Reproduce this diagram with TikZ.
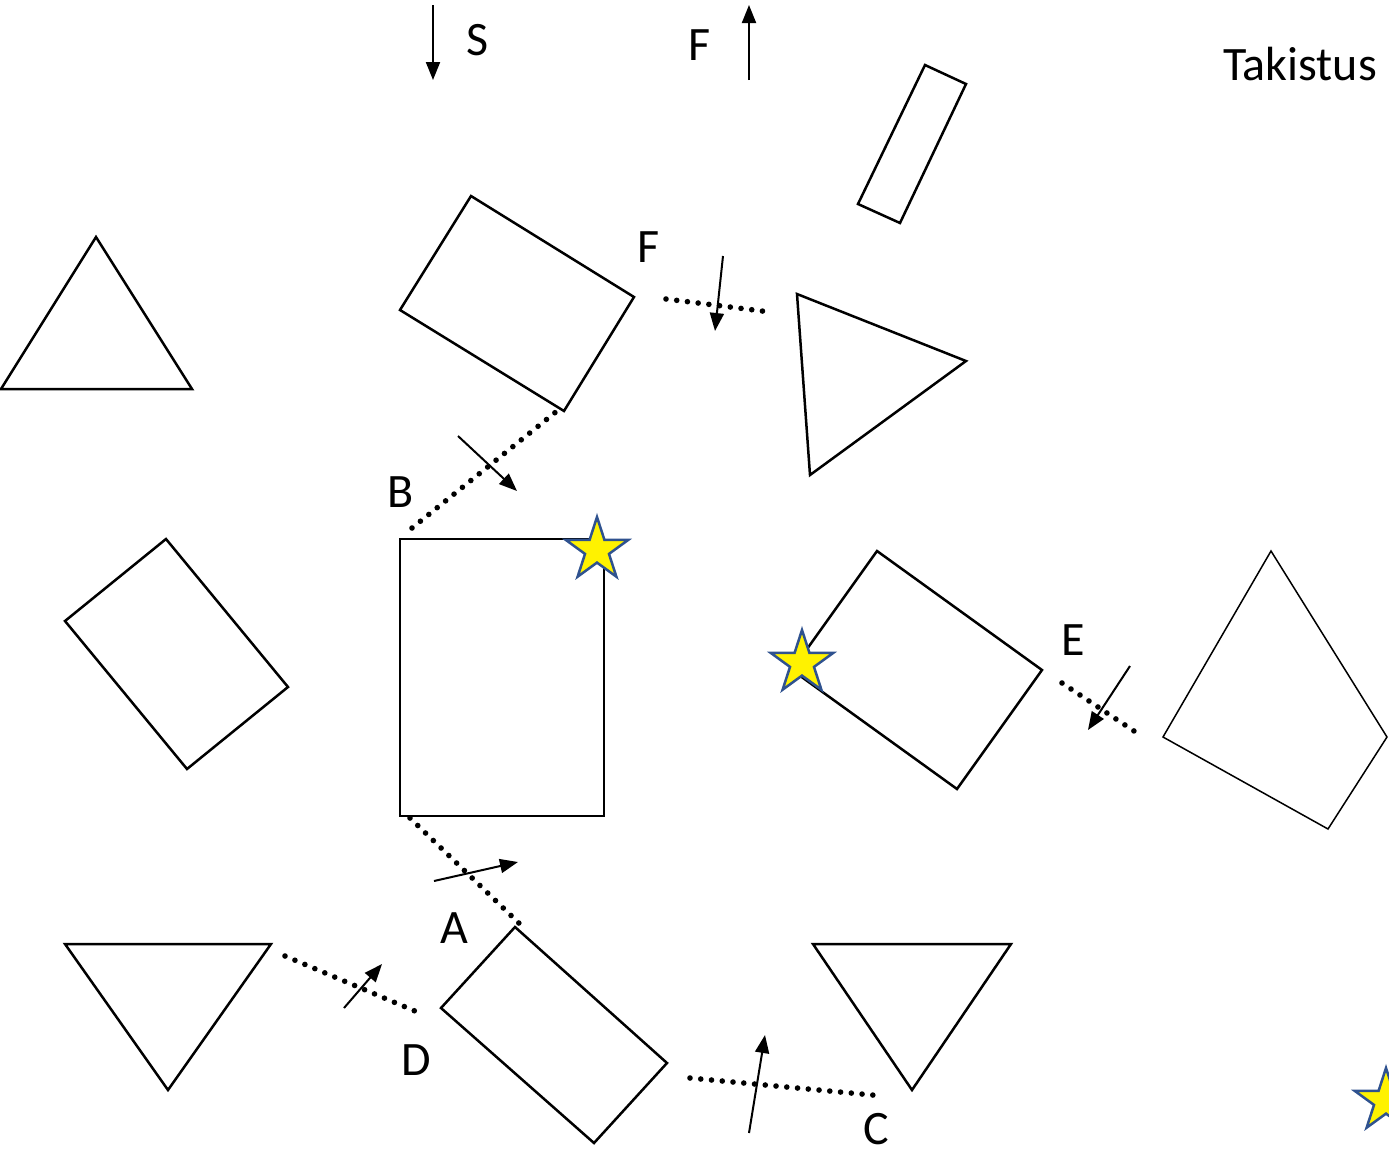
\documentclass[tikz,border=0pt]{standalone}
\usepackage{fontspec}
\setmainfont{Carlito}
\usetikzlibrary{arrows.meta,shapes.geometric}
\definecolor{starblue}{RGB}{47,82,143}

\begin{document}
\begin{tikzpicture}[
    x=0.5pt, y=-0.5pt,
    outline/.style={draw=black, line width=1.25pt, line join=miter},
    thin outline/.style={draw=black, line width=0.75pt},
    dotline/.style={line width=2.8pt, line cap=round, dash pattern=on 0pt off 5.4pt},
    force/.style={-{Triangle[length=9pt, width=7pt]}, line width=1pt},
    lbl/.style={font=\fontsize{24}{28}\selectfont, inner sep=0pt},
    ystar/.style={star, star points=5, star point ratio=2.62, minimum size=33pt,
        inner sep=0pt, fill=yellow, draw=starblue, line width=1.25pt}
]
    \useasboundingbox (0,0) rectangle (1389,1153);

    % ylarivi: suunnat ja otsikko
    \draw[force] (433,5) -- (433,80);
    \node[lbl] (s) at (478,40) {S};
    \draw[force] (749,80) -- (749,5);
    \node[lbl] (f1) at (700,45) {F};
    \node[lbl] (tak) at (1300,64) {Takistus};

    % kappaleet
    \draw[outline] (96,237) -- (192,389) -- (1,389) -- cycle;
    \draw[outline] (471,196) -- (634,297) -- (564,411) -- (400,310) -- cycle;
    \draw[outline] (925,65) -- (966,84) -- (900,223) -- (858,204) -- cycle;
    \draw[outline] (797,294) -- (966,361) -- (810,475) -- cycle;
    \draw[outline] (166,539) -- (288,687) -- (187,769) -- (65,621) -- cycle;
    \draw[outline] (400,539) rectangle (604,816);
    \draw[outline] (877,551) -- (1042,670) -- (957,789) -- (792,670) -- cycle;
    \draw[thin outline] (1271,551) -- (1387,737) -- (1328,829) -- (1163,737) -- cycle;
    \draw[outline] (65,944) -- (271,944) -- (168,1090) -- cycle;
    \draw[outline] (515,927) -- (667,1063) -- (594,1143) -- (441,1008) -- cycle;
    \draw[outline] (813,944) -- (1011,944) -- (912,1090) -- cycle;

    % tahdet
    \node[ystar] (st1) at (597,550) {};
    \node[ystar] (st2) at (802,663) {};
    \node[ystar] (st3) at (1386,1101) {};

    % F
    \draw[dotline] (666,299) -- (770,312);
    \draw[force] (723,256) -- (715,331);
    \node[lbl] (f2) at (649,247) {F};

    % B
    \draw[dotline] (412,528) -- (557,411);
    \draw[force] (458,436) -- (517,491);
    \node[lbl] (b) at (401,492) {B};

    % A
    \draw[dotline] (410,818) -- (524,928);
    \draw[force] (434,881) -- (518,862);
    \node[lbl] (a) at (454,928) {A};

    % E
    \draw[dotline] (1062,683) -- (1140,735);
    \draw[force] (1130,666) -- (1088,730);
    \node[lbl] (e) at (1073,640) {E};

    % D
    \draw[dotline] (285,956) -- (422,1014);
    \draw[force] (344,1008) -- (382,964);
    \node[lbl] (d) at (416,1060) {D};

    % C
    \draw[dotline] (690,1078) -- (883,1096);
    \draw[force] (749,1133) -- (765,1035);
    \node[lbl] (c) at (876,1129) {C};

\end{tikzpicture}
\end{document}
